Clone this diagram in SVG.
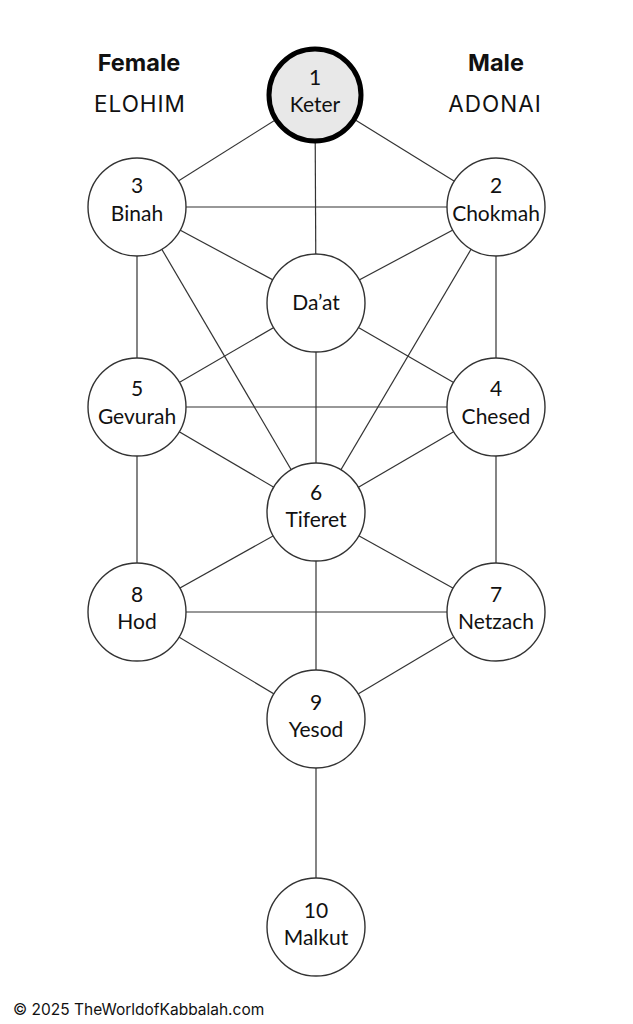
<svg xmlns="http://www.w3.org/2000/svg" width="633" height="1024" viewBox="0 0 633 1024">
<style>
.n{fill:#fff;stroke:#333;stroke-width:1.4}
.k{fill:#e8e8e8;stroke:#000;stroke-width:5}
.t{font-family:Lato,"Open Sans",sans-serif;font-size:21px;fill:#111;text-anchor:middle}
.h{font-family:Inter,"Open Sans",sans-serif;font-size:23.5px;font-weight:bold;fill:#111;text-anchor:middle}
.s{font-family:Inter,"Open Sans",sans-serif;font-size:22.5px;font-weight:400;letter-spacing:1px;fill:#111;text-anchor:middle}
.c line{stroke:#333;stroke-width:1.2}
</style>
<rect width="633" height="1024" fill="#fff"/>
<g class="c" id="connectors">
<line x1="315" y1="95" x2="137" y2="207"/>
<line x1="315" y1="95" x2="496" y2="207"/>
<line x1="315" y1="95" x2="316" y2="303"/>
<line x1="137" y1="207" x2="496" y2="207"/>
<line x1="137" y1="207" x2="316" y2="303"/>
<line x1="496" y1="207" x2="316" y2="303"/>
<line x1="137" y1="207" x2="137" y2="407"/>
<line x1="496" y1="207" x2="496" y2="407"/>
<line x1="137" y1="207" x2="316" y2="512"/>
<line x1="496" y1="207" x2="316" y2="512"/>
<line x1="316" y1="303" x2="137" y2="407"/>
<line x1="316" y1="303" x2="496" y2="407"/>
<line x1="316" y1="303" x2="316" y2="512"/>
<line x1="137" y1="407" x2="496" y2="407"/>
<line x1="137" y1="407" x2="316" y2="512"/>
<line x1="496" y1="407" x2="316" y2="512"/>
<line x1="137" y1="407" x2="137" y2="612"/>
<line x1="496" y1="407" x2="496" y2="612"/>
<line x1="316" y1="512" x2="137" y2="612"/>
<line x1="316" y1="512" x2="496" y2="612"/>
<line x1="316" y1="512" x2="316" y2="719"/>
<line x1="137" y1="612" x2="496" y2="612"/>
<line x1="137" y1="612" x2="316" y2="719"/>
<line x1="496" y1="612" x2="316" y2="719"/>
<line x1="316" y1="719" x2="316" y2="927"/>
</g>
<g id="keter"><circle class="k" cx="315" cy="95" r="46"/><text class="t" x="315" y="85">1</text><text class="t" x="315" y="112">Keter</text></g>
<g id="binah"><circle class="n" cx="137" cy="207" r="49"/><text class="t" x="137" y="193">3</text><text class="t" x="137" y="221">Binah</text></g>
<g id="chokmah"><circle class="n" cx="496" cy="207" r="49"/><text class="t" x="496" y="193">2</text><text class="t" x="496" y="221">Chokmah</text></g>
<g id="daat"><circle class="n" cx="316" cy="303" r="49"/><text class="t" x="316" y="310">Da’at</text></g>
<g id="gevurah"><circle class="n" cx="137" cy="407" r="49"/><text class="t" x="137" y="396">5</text><text class="t" x="137" y="424">Gevurah</text></g>
<g id="chesed"><circle class="n" cx="496" cy="407" r="49"/><text class="t" x="496" y="396">4</text><text class="t" x="496" y="424">Chesed</text></g>
<g id="tiferet"><circle class="n" cx="316" cy="512" r="49"/><text class="t" x="316" y="500">6</text><text class="t" x="316" y="527">Tiferet</text></g>
<g id="hod"><circle class="n" cx="137" cy="612" r="49"/><text class="t" x="137" y="602">8</text><text class="t" x="137" y="629">Hod</text></g>
<g id="netzach"><circle class="n" cx="496" cy="612" r="49"/><text class="t" x="496" y="602">7</text><text class="t" x="496" y="629">Netzach</text></g>
<g id="yesod"><circle class="n" cx="316" cy="719" r="49"/><text class="t" x="316" y="710">9</text><text class="t" x="316" y="737">Yesod</text></g>
<g id="malkut"><circle class="n" cx="316" cy="927" r="49"/><text class="t" x="316" y="918">10</text><text class="t" x="316" y="945">Malkut</text></g>
<g id="labels">
<text class="h" x="139" y="71">Female</text>
<text class="s" x="140" y="112">ELOHIM</text>
<text class="h" x="496" y="71">Male</text>
<text class="s" x="495" y="112">ADONAI</text>
<text x="13" y="1015" style="font-family:Inter,'Open Sans',sans-serif;font-size:15.5px;fill:#111">© 2025 TheWorldofKabbalah.com</text>
</g>
</svg>
